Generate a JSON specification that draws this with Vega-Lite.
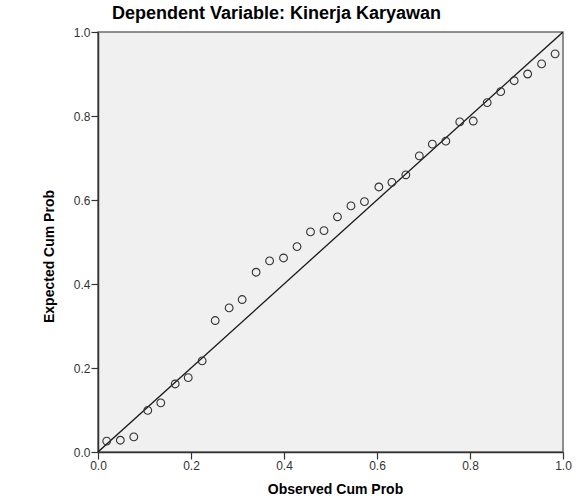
{
  "$schema": "https://vega.github.io/schema/vega-lite/v6.json",
  "width": 465,
  "height": 420,
  "autosize": {"type": "none"},
  "padding": {"left": 98, "top": 32, "right": 13, "bottom": 47},
  "background": "white",
  "title": {
    "text": "Dependent Variable: Kinerja Karyawan",
    "anchor": "start",
    "frame": "group",
    "dx": 14,
    "offset": 3,
    "font": "Liberation Sans",
    "fontSize": 18,
    "fontWeight": "bold",
    "color": "#000000"
  },
  "config": {
    "view": {"fill": "#F0F0F0", "stroke": "#6b6b6b", "strokeWidth": 1.5},
    "axis": {
      "grid": false,
      "domainColor": "#333333",
      "domainWidth": 1.5,
      "tickColor": "#333333",
      "tickWidth": 1.2,
      "tickSize": 7,
      "labelFont": "Liberation Sans",
      "labelFontSize": 12,
      "labelColor": "#333333",
      "labelFlush": false,
      "labelOverlap": false,
      "titleFont": "Liberation Sans",
      "titleFontSize": 14,
      "titleFontWeight": "bold",
      "titleColor": "#000000"
    }
  },
  "datasets": {
    "pts": [
      {"obs": 0.0187, "exp": 0.026},
      {"obs": 0.048, "exp": 0.028},
      {"obs": 0.077, "exp": 0.036},
      {"obs": 0.107, "exp": 0.099},
      {"obs": 0.135, "exp": 0.117},
      {"obs": 0.166, "exp": 0.162},
      {"obs": 0.194, "exp": 0.177},
      {"obs": 0.224, "exp": 0.217},
      {"obs": 0.252, "exp": 0.313},
      {"obs": 0.282, "exp": 0.343},
      {"obs": 0.310, "exp": 0.363},
      {"obs": 0.340, "exp": 0.428},
      {"obs": 0.369, "exp": 0.455},
      {"obs": 0.399, "exp": 0.462},
      {"obs": 0.428, "exp": 0.489},
      {"obs": 0.457, "exp": 0.524},
      {"obs": 0.486, "exp": 0.527},
      {"obs": 0.515, "exp": 0.560},
      {"obs": 0.544, "exp": 0.586},
      {"obs": 0.573, "exp": 0.596},
      {"obs": 0.604, "exp": 0.631},
      {"obs": 0.632, "exp": 0.642},
      {"obs": 0.662, "exp": 0.660},
      {"obs": 0.691, "exp": 0.705},
      {"obs": 0.719, "exp": 0.733},
      {"obs": 0.748, "exp": 0.740},
      {"obs": 0.778, "exp": 0.786},
      {"obs": 0.807, "exp": 0.788},
      {"obs": 0.837, "exp": 0.832},
      {"obs": 0.866, "exp": 0.858},
      {"obs": 0.895, "exp": 0.884},
      {"obs": 0.924, "exp": 0.900},
      {"obs": 0.954, "exp": 0.924},
      {"obs": 0.983, "exp": 0.948}
    ],
    "diag": [
      {"obs": 0, "exp": 0},
      {"obs": 1, "exp": 1}
    ]
  },
  "layer": [
    {
      "data": {"name": "diag"},
      "mark": {"type": "line", "color": "#1a1a1a", "strokeWidth": 1.3, "clip": true},
      "encoding": {
        "x": {
          "field": "obs", "type": "quantitative",
          "scale": {"domain": [0, 1], "nice": false, "zero": false},
          "axis": {
            "title": "Observed Cum Prob",
            "values": [0, 0.2, 0.4, 0.6, 0.8, 1.0],
            "format": ".1f",
            "labelPadding": 1,
            "titleX": 237,
            "titleY": 41,
            "titleBaseline": "alphabetic",
            "titleAnchor": "middle"
          }
        },
        "y": {
          "field": "exp", "type": "quantitative",
          "scale": {"domain": [0, 1], "nice": false, "zero": false},
          "axis": {
            "title": "Expected Cum Prob",
            "values": [0, 0.2, 0.4, 0.6, 0.8, 1.0],
            "format": ".1f",
            "labelPadding": 1,
            "titleX": -49,
            "titleY": 224,
            "titleAngle": -90,
            "titleBaseline": "middle",
            "titleAlign": "center",
            "titleAnchor": "middle"
          }
        }
      }
    },
    {
      "data": {"name": "pts"},
      "mark": {"type": "point", "shape": "circle", "filled": false, "size": 60, "stroke": "#333333", "strokeWidth": 1.1, "opacity": 1},
      "encoding": {
        "x": {"field": "obs", "type": "quantitative"},
        "y": {"field": "exp", "type": "quantitative"}
      }
    }
  ]
}
